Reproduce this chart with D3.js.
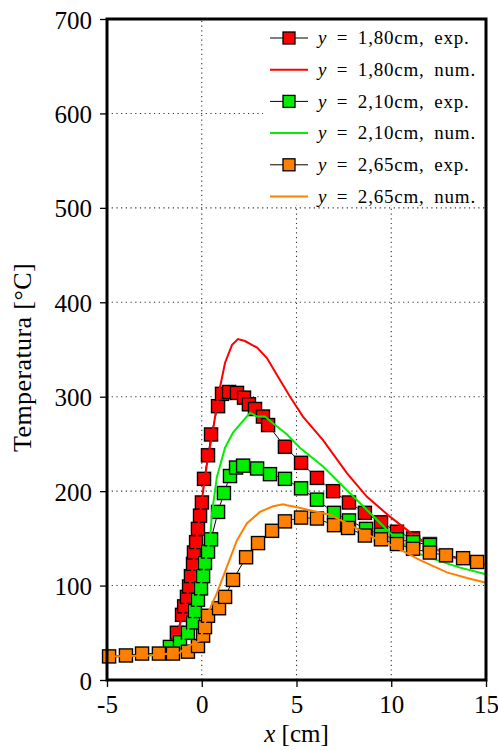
<!DOCTYPE html>
<html>
<head>
<meta charset="utf-8">
<script src="https://cdn.jsdelivr.net/npm/d3@7"></script>
<style>
  body { margin: 0; background: #fff; }
  svg text { font-family: "Liberation Serif", "DejaVu Serif", serif; fill: #000; }
</style>
</head>
<body>
<svg width="498" height="750"></svg>
<script>
// experimental points [x cm, T °C]
var exp180 = [[-1.31, 50], [-1.04, 69], [-0.93, 78], [-0.78, 88], [-0.67, 99], [-0.57, 110], [-0.46, 123],
  [-0.41, 135], [-0.30, 146], [-0.20, 160], [-0.09, 174], [0.01, 188], [0.12, 213], [0.33, 238], [0.49, 260],
  [0.86, 290], [1.07, 303], [1.44, 305], [1.86, 304], [2.23, 299], [2.49, 292], [2.81, 287], [3.23, 279],
  [3.50, 270], [4.39, 247], [5.24, 230], [6.08, 214], [6.93, 200], [7.77, 188], [8.61, 177], [9.46, 167],
  [10.30, 157], [11.15, 150], [12.04, 144]]
var exp210 = [[-1.68, 35], [-1.15, 40], [-0.73, 50], [-0.46, 61], [-0.36, 73], [-0.20, 85], [-0.04, 97],
  [0.07, 110], [0.17, 124], [0.33, 136], [0.49, 149], [0.86, 178], [1.17, 198], [1.49, 216], [1.81, 225],
  [2.18, 227], [2.92, 224], [3.60, 218], [4.39, 213], [5.24, 203], [6.08, 191], [6.98, 177], [7.77, 169],
  [8.67, 160], [9.46, 154], [10.30, 149], [11.15, 146], [12.04, 143]]
var exp265 = [[-4.89, 25], [-4.00, 26], [-3.15, 28], [-2.26, 28], [-1.52, 28], [-0.73, 30], [-0.20, 36],
  [0.07, 47], [0.17, 56], [0.33, 68], [0.91, 76], [1.23, 88], [1.65, 106], [2.34, 130], [2.97, 145],
  [3.71, 158], [4.39, 168], [5.24, 172], [6.08, 171], [6.98, 164], [7.72, 161], [8.61, 153], [9.46, 149],
  [10.30, 144], [11.15, 139], [12.04, 135], [12.89, 132], [13.79, 129], [14.53, 125]]

// numerical curves
var num180 = [[-5, 25], [-3, 26], [-2, 29], [-1.5, 40], [-1.2, 55], [-1, 70], [-0.6, 105], [-0.3, 145],
  [0, 190], [0.3, 232], [0.6, 265], [0.86, 300], [1.23, 336], [1.6, 355], [1.91, 361], [2.28, 359],
  [2.92, 352], [3.44, 341], [3.97, 323], [4.66, 300], [5.34, 279], [6.4, 254], [7.66, 219], [8.72, 194],
  [9.93, 173], [11.15, 154], [12.41, 138], [13.26, 130], [14.2, 125], [15, 122]]
var num210 = [[-5, 25], [-3, 26], [-2, 28], [-1.5, 33], [-1, 42], [-0.73, 53], [-0.46, 67], [-0.2, 88],
  [0, 105], [0.17, 124], [0.44, 150], [0.54, 177], [0.8, 215], [1.23, 246], [1.65, 262], [2.12, 273],
  [2.55, 283], [2.92, 279], [3.34, 279], [3.76, 272], [4.5, 260], [5.18, 246], [6.4, 226], [7.66, 201],
  [8.72, 180], [9.93, 156], [11.15, 136], [12.41, 127], [13.63, 119], [15, 112]]
var num265 = [[-5, 25], [-2.73, 26], [-1.15, 29], [-0.78, 35], [-0.09, 42], [0.33, 71], [0.8, 92],
  [1.33, 120], [1.86, 148], [2.39, 166], [3.07, 178], [3.76, 184], [4.3, 186], [4.5, 185], [5.03, 183],
  [5.87, 179], [6.77, 175], [7.66, 166], [9.04, 151], [10.3, 140], [11.52, 127], [12.94, 114],
  [14.0, 108], [15, 103]]

var xTicks = [-5, 0, 5, 10, 15]
var yTicks = [0, 100, 200, 300, 400, 500, 600, 700]

var series = [
  { key: 'exp', data: exp180, color: '#ff0000', label: '1,80cm, exp.' },
  { key: 'num', data: num180, color: '#ff0000', label: '1,80cm, num.' },
  { key: 'exp', data: exp210, color: '#00ee00', label: '2,10cm, exp.' },
  { key: 'num', data: num210, color: '#00ee00', label: '2,10cm, num.' },
  { key: 'exp', data: exp265, color: '#ff8000', label: '2,65cm, exp.' },
  { key: 'num', data: num265, color: '#ff8000', label: '2,65cm, num.' }
]

var svg = d3.select('svg')
var x = d3.scaleLinear().domain([-5, 15]).range([107, 486])
var y = d3.scaleLinear().domain([0, 700]).range([680, 19])

// grid
var grid = svg.append('g').attr('stroke', '#333').attr('stroke-width', 1.1)
  .attr('stroke-dasharray', '1.2,3.5')
grid.selectAll('.gx').data(xTicks.slice(1, -1)).enter().append('line')
  .attr('x1', function (d) { return x(d) }).attr('x2', function (d) { return x(d) })
  .attr('y1', y(0)).attr('y2', y(700))
grid.selectAll('.gy').data(yTicks.slice(1, -1)).enter().append('line')
  .attr('x1', x(-5)).attr('x2', x(15))
  .attr('y1', function (d) { return y(d) }).attr('y2', function (d) { return y(d) })

// legend background hides grid under it
svg.append('rect').attr('x', 263).attr('y', y(700)).attr('width', x(15) - 263).attr('height', 186)
  .attr('fill', '#fff')

var line = d3.line().x(function (d) { return x(d[0]) }).y(function (d) { return y(d[1]) })

function drawMarkers (g, data, color) {
  g.selectAll('rect.sh').data(data).enter().append('rect')
    .attr('x', function (d) { return x(d[0]) - 7.5 }).attr('y', function (d) { return y(d[1]) - 7.5 })
    .attr('width', 15).attr('height', 15).attr('fill', '#999').attr('opacity', 0.5)
  g.selectAll('rect.mk').data(data).enter().append('rect')
    .attr('x', function (d) { return x(d[0]) - 6.5 }).attr('y', function (d) { return y(d[1]) - 6.5 })
    .attr('width', 13).attr('height', 13)
    .attr('fill', color).attr('stroke', '#000').attr('stroke-width', 1.3)
}

series.forEach(function (s) {
  var g = svg.append('g')
  if (s.key === 'exp') {
    g.append('path').attr('d', line(s.data)).attr('fill', 'none')
      .attr('stroke', '#000').attr('stroke-width', 1)
    drawMarkers(g, s.data, s.color)
  } else {
    g.append('path').attr('d', line(s.data)).attr('fill', 'none')
      .attr('stroke', s.color).attr('stroke-width', 2)
  }
})

// axes
var fmt = function (d) { return String(d) }
var ax = svg.append('g').attr('transform', 'translate(0,' + y(0) + ')')
  .call(d3.axisBottom(x).tickValues(xTicks).tickFormat(fmt).tickSize(7).tickPadding(8))
var ay = svg.append('g').attr('transform', 'translate(' + x(-5) + ',0)')
  .call(d3.axisLeft(y).tickValues(yTicks).tickFormat(fmt).tickSize(7).tickPadding(8))
;[ax, ay].forEach(function (a) {
  a.select('.domain').remove()
  a.selectAll('line').attr('stroke-width', 1.3)
  a.selectAll('text').attr('font-size', 25).attr('font-family', '"Liberation Serif", serif')
})
ay.selectAll('text').attr('dy', '0.36em')

// frame
svg.append('rect').attr('x', x(-5)).attr('y', y(700)).attr('width', x(15) - x(-5))
  .attr('height', y(0) - y(700)).attr('fill', 'none').attr('stroke', '#000').attr('stroke-width', 3)

// axis titles
svg.append('text').attr('transform', 'translate(31,' + ((y(0) + y(700)) / 2 + 8) + ') rotate(-90)')
  .attr('text-anchor', 'middle').attr('font-size', 26).attr('letter-spacing', 0.4).text('Temperatura [°C]')
var xt = svg.append('text').attr('x', x(5)).attr('y', 742).attr('text-anchor', 'middle').attr('font-size', 25)
xt.append('tspan').attr('font-style', 'italic').text('x')
xt.append('tspan').text(' [cm]')

// legend
var leg = svg.append('g')
series.forEach(function (s, i) {
  var cy = 38 + i * 31.7
  var row = leg.append('g').attr('transform', 'translate(0,' + cy + ')')
  if (s.key === 'exp') {
    row.append('line').attr('x1', 270).attr('x2', 308).attr('stroke', '#000').attr('stroke-width', 1)
    row.append('rect').attr('x', 283).attr('y', -6).attr('width', 12).attr('height', 12)
      .attr('fill', s.color).attr('stroke', '#000').attr('stroke-width', 1.3)
  } else {
    row.append('line').attr('x1', 270).attr('x2', 308).attr('stroke', s.color).attr('stroke-width', 2)
  }
  var t = row.append('text').attr('x', 318).attr('dy', '0.33em').attr('font-size', 19)
    .attr('letter-spacing', 0.8).attr('word-spacing', 4)
  t.append('tspan').attr('font-style', 'italic').text('y')
  t.append('tspan').text(' = ' + s.label)
})
</script>
</body>
</html>
